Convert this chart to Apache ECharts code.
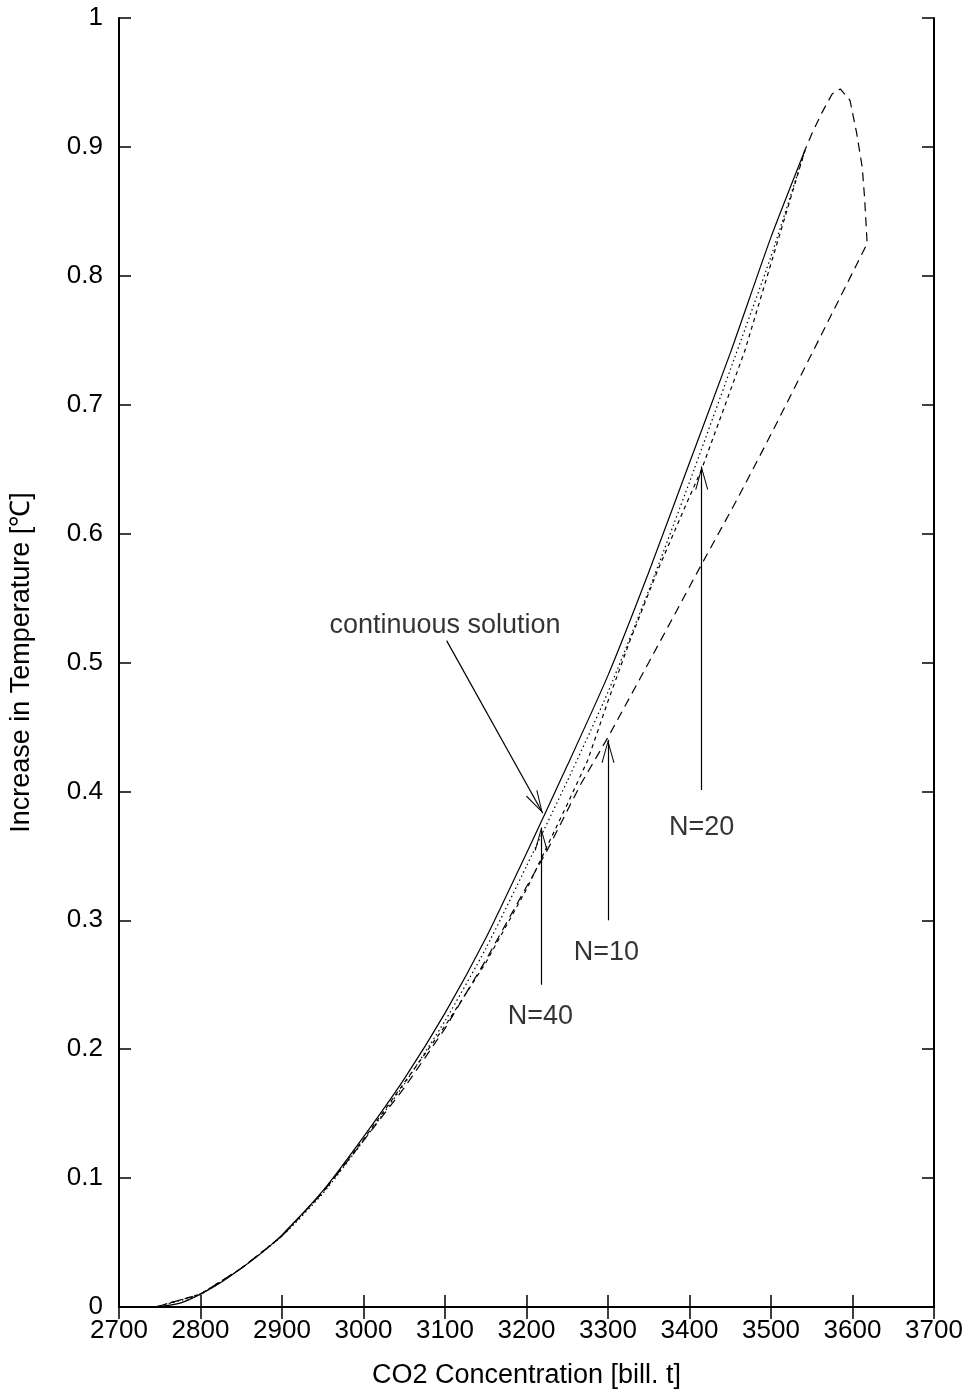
<!DOCTYPE html>
<html>
<head>
<meta charset="utf-8">
<script src="https://cdn.jsdelivr.net/npm/echarts@6/dist/echarts.min.js"></script>
<style>
html, body { margin: 0; padding: 0; background: #fff; }
#chart { width: 969px; height: 1396px; }
</style>
</head>
<body>
<div id="chart"></div>
<script>
// continuous solution (solid)
var co2Cont  = [2745, 2775, 2800, 2825, 2850, 2875, 2900, 2950, 3000, 3050, 3100, 3150, 3200, 3250, 3300, 3350, 3400, 3450, 3500, 3542];
var tempCont = [0, 0.003, 0.010, 0.019, 0.030, 0.042, 0.056, 0.090, 0.132, 0.177, 0.228, 0.286, 0.352, 0.420, 0.490, 0.570, 0.655, 0.740, 0.830, 0.898];

// N=40 (dotted)
var co2N40  = [2745, 2800, 2850, 2900, 2950, 3000, 3050, 3100, 3150, 3200, 3250, 3300, 3350, 3400, 3450, 3500, 3542];
var tempN40 = [0, 0.010, 0.030, 0.055, 0.088, 0.129, 0.173, 0.222, 0.278, 0.342, 0.408, 0.477, 0.556, 0.640, 0.727, 0.815, 0.898];

// N=20 (short dashes)
var co2N20  = [2745, 2800, 2850, 2900, 2950, 3000, 3100, 3150, 3200, 3250, 3275, 3300, 3327, 3360, 3394, 3415, 3468, 3542];
var tempN20 = [0, 0.010, 0.030, 0.055, 0.089, 0.130, 0.218, 0.267, 0.324, 0.390, 0.424, 0.470, 0.517, 0.570, 0.620, 0.650, 0.742, 0.898];

// N=10 (long dashes, with the loop at the top)
var co2N10  = [2745, 2800, 2850, 2900, 2950, 3000, 3050, 3100, 3150, 3200, 3226, 3266, 3300, 3350, 3413, 3458, 3500, 3552, 3618, 3615, 3612, 3605, 3597, 3585, 3575, 3562, 3550, 3542];
var tempN10 = [0, 0.010, 0.030, 0.055, 0.089, 0.129, 0.170, 0.216, 0.269, 0.326, 0.355, 0.405, 0.442, 0.500, 0.574, 0.626, 0.677, 0.742, 0.825, 0.859, 0.884, 0.911, 0.936, 0.945, 0.941, 0.926, 0.910, 0.898];

// annotations
var labelText = ['continuous solution', 'N=40', 'N=10', 'N=20'];
var labelPos  = [[3100, 0.529], [3217, 0.225], [3298, 0.275], [3415, 0.372]];
var arrowFrom = [[3102, 0.517], [3218, 0.250], [3300, 0.300], [3415, 0.401]];
var arrowTo   = [[3220, 0.383], [3218, 0.372], [3300, 0.440], [3415, 0.652]];

var xTicks = { min: 2700, max: 3700, interval: 100 };
var yTicks = { min: 0, max: 1, interval: 0.1 };

function zip(xs, ys) {
	return xs.map(function (x, i) { return [x, ys[i]]; });
}

var font = 'Liberation Sans, Arial, Helvetica, sans-serif';
var arrowHead = 'path://M6,-20 L6.01,-20 M0,20 L6,0 L12,20 L11,20 L6,3 L1,20 Z';

var chart = echarts.init(document.getElementById('chart'));

var axisCommon = {
	axisLine: { show: true, lineStyle: { color: '#000', width: 2 } },
	axisTick: { show: true, inside: true, length: 12, lineStyle: { color: '#000', width: 1.5 } },
	splitLine: { show: false }
};

var option = {
	animation: false,
	backgroundColor: '#fff',
	grid: { left: 119, right: 35, top: 18, bottom: 89 },
	xAxis: [
		Object.assign({
			type: 'value', position: 'bottom',
			min: xTicks.min, max: xTicks.max, interval: xTicks.interval,
			name: 'CO2 Concentration [bill. t]',
			nameLocation: 'middle', nameGap: 55,
			nameTextStyle: { fontFamily: font, fontSize: 27, color: '#000' },
			axisLabel: {
				fontFamily: font, fontSize: 26, color: '#000', margin: 11,
				formatter: function (v) { return String(v); }
			}
		}, axisCommon),
		Object.assign({
			type: 'value', position: 'top',
			min: xTicks.min, max: xTicks.max, interval: xTicks.interval,
			axisLabel: { show: false }
		}, axisCommon)
	],
	yAxis: [
		Object.assign({
			type: 'value', position: 'left',
			min: yTicks.min, max: yTicks.max, interval: yTicks.interval,
			name: 'Increase in Temperature [℃]',
			nameLocation: 'middle', nameGap: 84,
			nameTextStyle: { fontFamily: font, fontSize: 27, color: '#000' },
			axisLabel: {
				fontFamily: font, fontSize: 26, color: '#000', margin: 16,
				formatter: function (v) { return String(parseFloat(v.toFixed(1))); }
			}
		}, axisCommon),
		Object.assign({
			type: 'value', position: 'right',
			min: yTicks.min, max: yTicks.max, interval: yTicks.interval,
			axisLabel: { show: false }
		}, axisCommon)
	],
	series: [
		{
			name: 'continuous solution', type: 'line', showSymbol: false, smooth: 0.2,
			data: zip(co2Cont, tempCont),
			lineStyle: { color: '#000', width: 1.2, type: 'solid' }
		},
		{
			name: 'N=40', type: 'line', showSymbol: false, smooth: 0.2,
			data: zip(co2N40, tempN40),
			lineStyle: { color: '#000', width: 1.2, type: [1.5, 3] }
		},
		{
			name: 'N=20', type: 'line', showSymbol: false,
			data: zip(co2N20, tempN20),
			lineStyle: { color: '#000', width: 1.2, type: [4, 4] }
		},
		{
			name: 'N=10', type: 'line', showSymbol: false,
			data: zip(co2N10, tempN10),
			lineStyle: { color: '#000', width: 1.2, type: [9, 6] }
		},
		{
			name: 'labels', type: 'scatter', symbolSize: 0, silent: true,
			data: labelText.map(function (t, i) { return { name: t, value: labelPos[i] }; }),
			label: {
				show: true, position: 'inside', formatter: '{b}',
				fontFamily: font, fontSize: 27, color: '#000'
			},
			markLine: {
				silent: true,
				symbol: ['none', arrowHead],
				symbolSize: [13, 46],
				label: { show: false },
				lineStyle: { color: '#000', width: 1.2, type: 'solid' },
				data: arrowFrom.map(function (p, i) {
					return [{ coord: p }, { coord: arrowTo[i] }];
				})
			}
		}
	]
};

chart.setOption(option);
</script>
</body>
</html>
